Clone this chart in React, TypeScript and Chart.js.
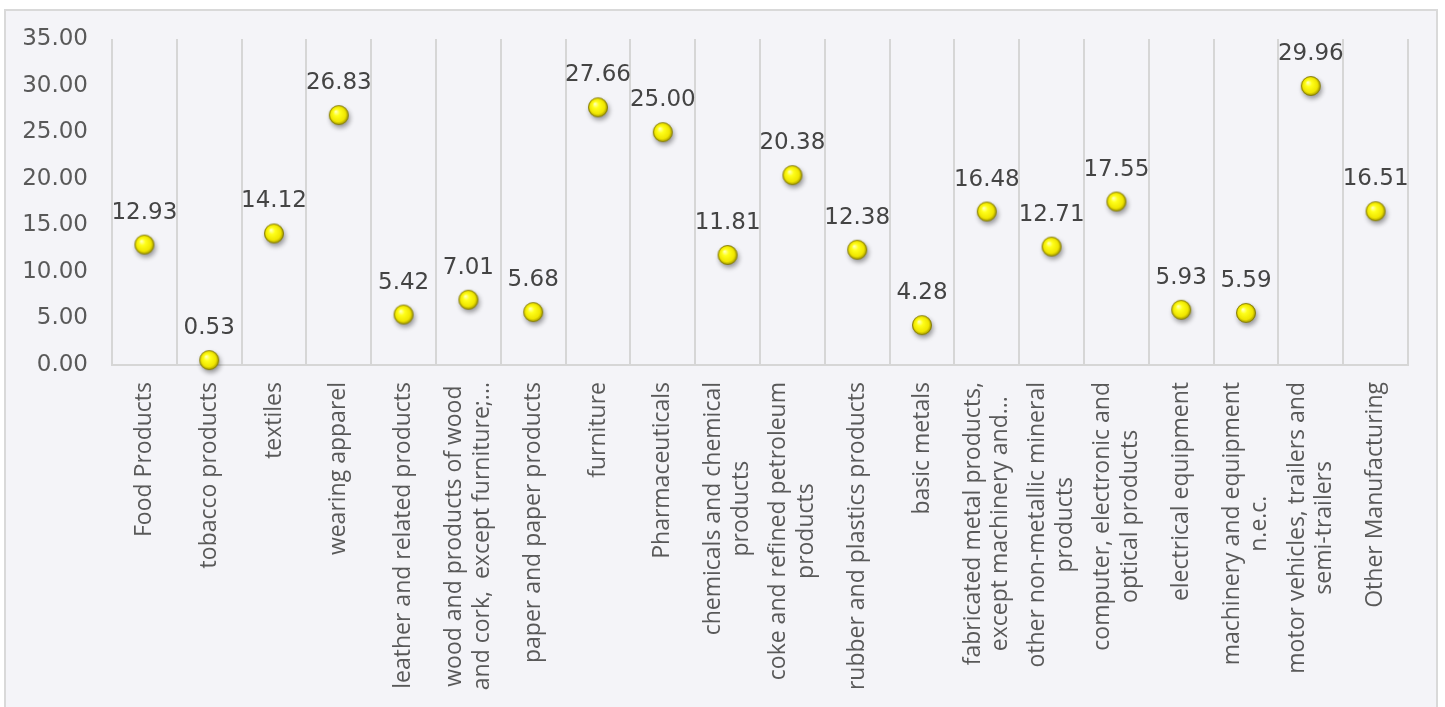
import React, { useEffect, useRef } from "react";
import { Chart, registerables } from "chart.js";

Chart.register(...registerables);

const CATEGORIES: string[] = [
  "Food Products",
  "tobacco products",
  "textiles",
  "wearing apparel",
  "leather and related products",
  "wood and products of wood\nand cork,  except furniture;...",
  "paper and paper products",
  "furniture",
  "Pharmaceuticals",
  "chemicals and chemical\nproducts",
  "coke and refined petroleum\nproducts",
  "rubber and plastics products",
  "basic metals",
  "fabricated metal products,\nexcept machinery and...",
  "other non-metallic mineral\nproducts",
  "computer, electronic and\noptical products",
  "electrical equipment",
  "machinery and equipment\nn.e.c.",
  "motor vehicles, trailers and\nsemi-trailers",
  "Other Manufacturing",
];

const VALUES: number[] = [
  12.93, 0.53, 14.12, 26.83, 5.42, 7.01, 5.68, 27.66, 25.0, 11.81, 20.38, 12.38,
  4.28, 16.48, 12.71, 17.55, 5.93, 5.59, 29.96, 16.51,
];

const Y_MIN = 0;
const Y_MAX = 35;
const Y_STEP = 5;

const NUM_FONT = "'DejaVu Sans', Verdana, sans-serif";
const CAT_FONT = "'Open Sans', 'Noto Sans', sans-serif";

function makeSphere(): HTMLCanvasElement {
  const c = document.createElement("canvas");
  const size = 38;
  c.width = size;
  c.height = size;
  const ctx = c.getContext("2d")!;
  const cx = size / 2;
  const cy = size / 2;
  const r = 9.8;
  ctx.save();
  ctx.shadowColor = "rgba(0,0,0,0.4)";
  ctx.shadowBlur = 5;
  ctx.shadowOffsetX = 1.5;
  ctx.shadowOffsetY = 3;
  const g = ctx.createRadialGradient(cx - 3, cy - 3.5, 0.5, cx, cy, r);
  g.addColorStop(0, "#ffffb4");
  g.addColorStop(0.3, "#ffff1a");
  g.addColorStop(0.75, "#f0e600");
  g.addColorStop(1, "#9c9200");
  ctx.fillStyle = g;
  ctx.beginPath();
  ctx.arc(cx, cy, r, 0, Math.PI * 2);
  ctx.fill();
  ctx.restore();
  ctx.strokeStyle = "rgba(120,112,0,0.85)";
  ctx.lineWidth = 0.8;
  ctx.beginPath();
  ctx.arc(cx, cy, r - 0.3, 0, Math.PI * 2);
  ctx.stroke();
  return c;
}

const dataLabelPlugin = {
  id: "dataLabels",
  afterDatasetsDraw(chart: any) {
    const ctx = chart.ctx;
    const meta = chart.getDatasetMeta(0);
    ctx.save();
    ctx.font = `23px ${NUM_FONT}`;
    ctx.fillStyle = "#444444";
    ctx.textAlign = "center";
    ctx.textBaseline = "alphabetic";
    meta.data.forEach((pt: any, i: number) => {
      const v = chart.data.datasets[0].data[i] as number;
      ctx.fillText(v.toFixed(2), pt.x, pt.y - 26);
    });
    ctx.restore();
  },
};

const catLabelPlugin = {
  id: "catLabels",
  afterDraw(chart: any) {
    const ctx = chart.ctx;
    const xs = chart.scales.x;
    const top = chart.chartArea.bottom + 17;
    const lineH = 27.5;
    ctx.save();
    ctx.font = `23px ${CAT_FONT}`;
    ctx.fillStyle = "#595959";
    ctx.textAlign = "center";
    ctx.textBaseline = "middle";
    (chart.data.labels as string[]).forEach((lab: string, i: number) => {
      const lines = lab.split("\n");
      const maxW = Math.max(...lines.map((l) => ctx.measureText(l).width));
      const x = xs.getPixelForValue(i);
      ctx.save();
      ctx.translate(x, top);
      ctx.rotate(-Math.PI / 2);
      lines.forEach((l, j) => {
        const off = (j - (lines.length - 1) / 2) * lineH;
        ctx.fillText(l, -maxW / 2, off);
      });
      ctx.restore();
    });
    ctx.restore();
  },
};

export default function App() {
  const ref = useRef<HTMLCanvasElement>(null);

  useEffect(() => {
    const canvas = ref.current!;
    const sphere = makeSphere();
    const chart = new Chart(canvas, {
      type: "line",
      data: {
        labels: CATEGORIES,
        datasets: [
          {
            data: VALUES,
            showLine: false,
            pointStyle: sphere as any,
            pointRadius: 10,
            clip: false as any,
          },
        ],
      },
      options: {
        animation: false,
        responsive: false,
        devicePixelRatio: 1,
        layout: { padding: { left: 0, top: 39, right: 37, bottom: 0 } },
        plugins: {
          legend: { display: false },
          tooltip: { enabled: false },
        },
        scales: {
          x: {
            type: "category",
            offset: true,
            grid: {
              offset: true,
              color: "#d6d6d6",
              lineWidth: 2,
              drawTicks: false,
            },
            border: { display: true, color: "#d6d6d6", width: 2 },
            ticks: { display: false },
            afterFit: (s: any) => {
              s.height = 342;
            },
          },
          y: {
            min: Y_MIN,
            max: Y_MAX,
            ticks: {
              stepSize: Y_STEP,
              padding: 24,
              color: "#595959",
              font: { family: NUM_FONT, size: 23 },
              callback: (v: any) => Number(v).toFixed(2),
            },
            grid: { display: false, drawTicks: false },
            border: { display: false },
            afterFit: (s: any) => {
              s.width = 112;
            },
          },
        },
      },
      plugins: [dataLabelPlugin, catLabelPlugin],
    });
    return () => chart.destroy();
  }, []);

  return (
    <div
      style={{
        position: "fixed",
        left: 0,
        top: 0,
        width: 1445,
        height: 707,
        background: "#ffffff",
        overflow: "hidden",
      }}
    >
      <div
        style={{
          position: "absolute",
          left: 4,
          top: 9,
          width: 1430,
          height: 720,
          background: "#f4f4f8",
          border: "2px solid #d9d9d9",
        }}
      />
      <canvas
        ref={ref}
        width={1445}
        height={707}
        style={{ position: "absolute", left: 0, top: 0, width: 1445, height: 707 }}
      />
    </div>
  );
}
